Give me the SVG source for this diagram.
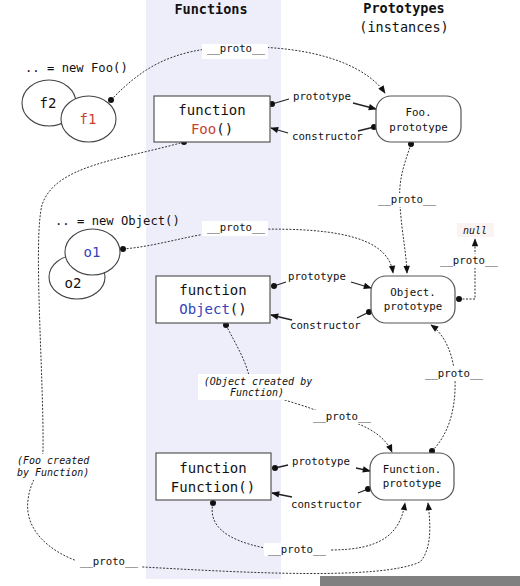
<svg xmlns="http://www.w3.org/2000/svg" width="520" height="586" viewBox="0 0 520 586">
<style>
text{font-family:"DejaVu Sans Mono","Liberation Mono",monospace;fill:#111}
.t{font-size:13.5px;font-weight:bold;text-anchor:middle}
.h{font-size:13.5px;text-anchor:middle}
.box{fill:#fff;stroke:#555;stroke-width:1.2}
.ell{fill:#fff;stroke:#444;stroke-width:1.1}
.bt{font-size:14px;text-anchor:middle}
.pt{font-size:10.8px;text-anchor:middle}
.lb{font-size:10.7px}
.nw{font-size:12.2px}
.it{font-size:10px;font-style:italic}
.dash{fill:none;stroke:#333;stroke-width:1;stroke-dasharray:2 1.5}
.solid{fill:none;stroke:#222;stroke-width:1.3}
.bg{fill:#fff}
.red{fill:#c8402f}
.blue{fill:#3344bb}
</style>
<defs>
<marker id="ah" viewBox="0 0 10 10" refX="9" refY="5" markerWidth="9" markerHeight="8" markerUnits="userSpaceOnUse" orient="auto"><path d="M0,1 L10,5 L0,9z" fill="#111"/></marker>
<marker id="dot" viewBox="0 0 6 6" refX="3" refY="3" markerWidth="6" markerHeight="6" markerUnits="userSpaceOnUse"><circle cx="3" cy="3" r="3" fill="#111"/></marker>
</defs>
<rect x="146" y="0" width="135" height="579" fill="#eeeefb"/>
<text class="t" x="211" y="14">Functions</text>
<text class="t" x="404" y="13">Prototypes</text>
<text class="h" x="404" y="32">(instances)</text>

<g id="connectors">
<path class="dash" marker-start="url(#dot)" marker-end="url(#ah)" d="M111,100 C140,70 170,48 235,47 C320,45 368,68 385,93"/>
<path class="dash" marker-start="url(#dot)" marker-end="url(#ah)" d="M184,142 C120,160 55,165 42,205 C33,240 44,380 43,450 C42,470 30,480 28,500 C24,530 50,552 80,562 L143,567 C250,573 380,580 420,562 C433,548 430,520 428,503"/>
<path class="dash" marker-start="url(#dot)" marker-end="url(#ah)" d="M411,144 C404,165 398,180 400,205 C402,235 406,250 407,273"/>
<path class="dash" marker-start="url(#dot)" marker-end="url(#ah)" d="M123,249 C160,246 190,234 235,230 C330,226 388,235 393,273"/>
<path class="dash" marker-start="url(#dot)" marker-end="url(#ah)" d="M226,325 C236,345 246,360 250,380 C255,395 290,400 315,410 C340,418 380,425 392,452"/>
<path class="dash" marker-start="url(#dot)" marker-end="url(#ah)" d="M459,299 L475,299 L475,239"/>
<path class="dash" marker-start="url(#dot)" marker-end="url(#ah)" d="M432,451 C448,435 456,410 455,380 C454,355 445,335 431,325"/>
<path class="dash" marker-start="url(#dot)" marker-end="url(#ah)" d="M213,503 C208,525 225,540 265,548 L330,550 C380,550 400,535 405,503"/>

<path class="solid" marker-start="url(#dot)" d="M272,104 L289,99"/>
<path class="solid" marker-end="url(#ah)" d="M353,103 L376,109"/>
<path class="solid" marker-start="url(#dot)" d="M374,127 L358,131"/>
<path class="solid" marker-end="url(#ah)" d="M288,133 L271,128"/>

<path class="solid" marker-start="url(#dot)" d="M274,286 L286,282"/>
<path class="solid" marker-end="url(#ah)" d="M351,282 L371,288"/>
<path class="solid" marker-start="url(#dot)" d="M369,312 L357,318"/>
<path class="solid" marker-end="url(#ah)" d="M292,320 L271,315"/>

<path class="solid" marker-start="url(#dot)" d="M275,468 L288,465"/>
<path class="solid" marker-end="url(#ah)" d="M356,468 L370,471"/>
<path class="solid" marker-start="url(#dot)" d="M368,489 L358,493"/>
<path class="solid" marker-end="url(#ah)" d="M292,497 L272,493"/>

<rect class="bg" x="202" y="44" width="66" height="15"/>
<text class="lb" x="207" y="52">__proto__</text>
<rect class="bg" x="14" y="454" width="80" height="26"/>
<text class="it" x="17" y="464">(Foo created</text>
<text class="it" x="17" y="476">by Function)</text>
<rect class="bg" x="76" y="556" width="66" height="14"/>
<text class="lb" x="80" y="565">__proto__</text>
<rect class="bg" x="374" y="193" width="64" height="14"/>
<text class="lb" x="378" y="203">__proto__</text>
<rect class="bg" x="202" y="221" width="66" height="15"/>
<text class="lb" x="207" y="231">__proto__</text>
<rect class="bg" x="198" y="374" width="120" height="26"/>
<text class="it" x="258" y="385" text-anchor="middle">(Object created by</text>
<text class="it" x="257" y="396" text-anchor="middle">Function)</text>
<rect class="bg" x="310" y="410" width="66" height="14"/>
<text class="lb" x="313" y="420">__proto__</text>
<rect class="bg" x="437" y="254" width="64" height="14"/>
<text class="lb" x="440" y="264">__proto__</text>
<rect class="bg" x="421" y="366" width="66" height="14"/>
<text class="lb" x="425" y="377">__proto__</text>
<rect class="bg" x="264" y="543" width="66" height="13"/>
<text class="lb" x="268" y="553">__proto__</text>

<text class="lb" x="293" y="100">prototype</text>
<text class="lb" x="292" y="140">constructor</text>
<text class="lb" x="288" y="280">prototype</text>
<text class="lb" x="290" y="329">constructor</text>
<text class="lb" x="292" y="465">prototype</text>
<text class="lb" x="291" y="508">constructor</text>
</g>

<g id="foo-instances">
<text class="nw" x="25" y="72">.. = new Foo()</text>
<ellipse class="ell" cx="49" cy="103" rx="27" ry="23"/>
<text class="bt" x="48" y="108">f2</text>
<ellipse class="ell" cx="88.5" cy="119" rx="27.5" ry="23"/>
<text class="bt red" x="88" y="124">f1</text>
</g>

<g id="object-instances">
<text class="nw" x="55" y="225">.. = new Object()</text>
<ellipse class="ell" cx="77" cy="277" rx="28" ry="22"/>
<text class="bt" x="73" y="288">o2</text>
<ellipse class="ell" cx="92.5" cy="252" rx="27.5" ry="23"/>
<text class="bt blue" x="92" y="257">o1</text>
</g>

<g id="fn-foo">
<rect class="box" x="154" y="96" width="116" height="46"/>
<text class="bt" x="212" y="115">function</text>
<text class="bt" x="212" y="134"><tspan class="red">Foo</tspan>()</text>
</g>

<g id="fn-object">
<rect class="box" x="156" y="276" width="114" height="47"/>
<text class="bt" x="213" y="295">function</text>
<text class="bt" x="213" y="314"><tspan class="blue">Object</tspan>()</text>
</g>

<g id="fn-function">
<rect class="box" x="156" y="453" width="115" height="47"/>
<text class="bt" x="213" y="473">function</text>
<text class="bt" x="213" y="492">Function()</text>
</g>

<g id="foo-prototype">
<rect class="box" x="376" y="96" width="85" height="46" rx="15"/>
<text class="pt" x="418.5" y="116">Foo.</text>
<text class="pt" x="418.5" y="131">prototype</text>
</g>

<g id="object-prototype">
<rect class="box" x="371" y="276" width="84" height="47" rx="15"/>
<text class="pt" x="413" y="296">Object.</text>
<text class="pt" x="413" y="310">prototype</text>
</g>

<g id="function-prototype">
<rect class="box" x="370" y="453" width="84" height="47" rx="15"/>
<text class="pt" x="412" y="473">Function.</text>
<text class="pt" x="412" y="487">prototype</text>
</g>

<g id="null">
<rect x="457" y="223" width="37" height="14" fill="#fbf2f2"/>
<text class="it" x="475" y="234" text-anchor="middle" font-size="11">null</text>
</g>

<rect x="320" y="576" width="200" height="10" fill="#808080"/>
</svg>
